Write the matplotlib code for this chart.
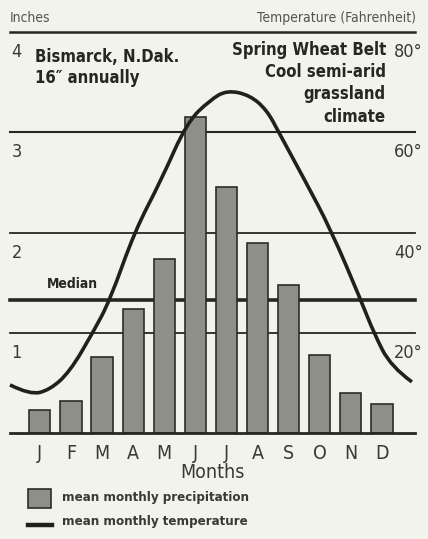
import matplotlib.pyplot as plt
from matplotlib.patches import Rectangle, PathPatch
from matplotlib.lines import Line2D
from matplotlib.path import Path

# data
months = ['J', 'F', 'M', 'A', 'M', 'J', 'J', 'A', 'S', 'O', 'N', 'D']
precip = [0.23, 0.32, 0.76, 1.24, 1.74, 3.15, 2.45, 1.90, 1.48, 0.78, 0.40, 0.29]  # inches
median_precip = 1.33
grid_inches = [1, 2, 3, 4]

# mean monthly temperature curve (month position, deg F)
temp_x = [-0.96, -0.32, 0.32, 0.96, 1.70, 2.25, 3.05, 3.89, 4.73, 5.47,
          6.01, 6.75, 7.30, 7.68, 8.52, 9.36, 10.32, 10.74, 11.29, 11.96]
temp_f = [9.6, 7.6, 8.6, 12.2, 20.0, 26.4, 40.3, 50.3, 62.0, 66.4,
          68.4, 67.4, 64.4, 60.0, 50.4, 40.5, 26.5, 19.9, 13.2, 10.2]
temp_ticks = [20, 40, 60, 80]

bg = '#f3f3ee'
ink = '#26271f'
plt.rcParams['font.family'] = ['DejaVu Sans']
plt.rcParams['font.stretch'] = 'condensed'

fig = plt.figure(figsize=(4.28, 5.39), dpi=100, facecolor=bg)
W, H = 428, 539
ax = fig.add_axes([10 / W, 1 - 433 / H, 405 / W, 401 / H])
ax.set_facecolor('none')
ax.set_xlim(-0.96, 12.06)
ax.set_ylim(0, 4)
ax.axis('off')

# horizontal rules
widths = {1: 1.3, 2: 1.3, 3: 1.5, 4: 1.8}
for v in grid_inches:
    ax.axhline(v, color=ink, lw=widths[v], clip_on=False, zorder=1)
ax.axhline(median_precip, color=ink, lw=2.6, clip_on=False, zorder=1)
ax.axhline(0, color=ink, lw=2.0, clip_on=False, zorder=4)

# precipitation bars
x = list(range(len(months)))
ax.bar(x, precip, width=0.68, color='#8e8f89', edgecolor='#2c2e26', linewidth=1.2, zorder=3)

# left inch labels
for v in grid_inches:
    ax.annotate(str(v), xy=(0, v), xycoords=('axes fraction', 'data'),
                xytext=(1, -8), textcoords='offset points', ha='left', va='top',
                fontsize=13, color='#3a3a35')

ax.text(1.06, median_precip + 0.09, 'Median', fontsize=10, fontweight='bold',
        ha='center', va='bottom', color=ink)

# month labels
for i, m in enumerate(months):
    ax.text(i, -0.2, m, ha='center', va='center', fontsize=14, color='#3a3a35')

# temperature on second axis, drawn as a smooth path through the traced points
ax2 = ax.twinx()
ax2.set_ylim(0, 80)
ax2.axis('off')
pts = list(zip(temp_x, temp_f))
verts = [pts[0]]
codes = [Path.MOVETO]
for i in range(1, len(pts) - 1):
    mid = ((pts[i][0] + pts[i + 1][0]) / 2, (pts[i][1] + pts[i + 1][1]) / 2)
    if i == len(pts) - 2:
        mid = pts[-1]
    verts += [pts[i], mid]
    codes += [Path.CURVE3, Path.CURVE3]
ax2.add_patch(PathPatch(Path(verts, codes), facecolor='none', edgecolor='#202119',
                        lw=2.6, zorder=5, clip_on=False))
for t in temp_ticks:
    ax2.annotate(f'{t}°', xy=(384 / 405, t), xycoords=('axes fraction', 'data'),
                 xytext=(0, -8), textcoords='offset points', ha='left', va='top',
                 fontsize=13, color='#3a3a35')

# header texts
fig.text(10 / W, 1 - 18 / H, 'Inches', fontsize=10, color='#55554f', ha='left', va='center')
fig.text(416 / W, 1 - 18 / H, 'Temperature (Fahrenheit)', fontsize=10, color='#55554f',
         ha='right', va='center')
fig.text(35 / W, 1 - 48 / H, 'Bismarck, N.Dak.\n16\u2033 annually', fontsize=12,
         fontweight='bold', color=ink, ha='left', va='top', linespacing=1.2)
fig.text(386 / W, 1 - 41 / H, 'Spring Wheat Belt\nCool semi-arid\ngrassland\nclimate',
         fontsize=12, fontweight='bold', color=ink, ha='right', va='top',
         multialignment='right', linespacing=1.3)

fig.text(212 / W, 1 - 473 / H, 'Months', fontsize=14, color='#3a3a35', ha='center', va='center')

# legend drawn by hand
fig.add_artist(Rectangle((28 / W, 1 - 508 / H), 23 / W, 19 / H, transform=fig.transFigure,
                         facecolor='#8e8f89', edgecolor='#2c2e26', lw=1.2))
fig.add_artist(Line2D([28 / W, 52 / W], [1 - 525 / H, 1 - 525 / H], transform=fig.transFigure,
                      color='#202119', lw=3.2))
fig.text(62 / W, 1 - 498 / H, 'mean monthly precipitation', fontsize=9.5, fontweight='bold',
         color='#3a3a35', ha='left', va='center')
fig.text(62 / W, 1 - 521 / H, 'mean monthly temperature', fontsize=9.5, fontweight='bold',
         color='#3a3a35', ha='left', va='center')

fig.savefig('out.png', dpi=100, facecolor=bg)
